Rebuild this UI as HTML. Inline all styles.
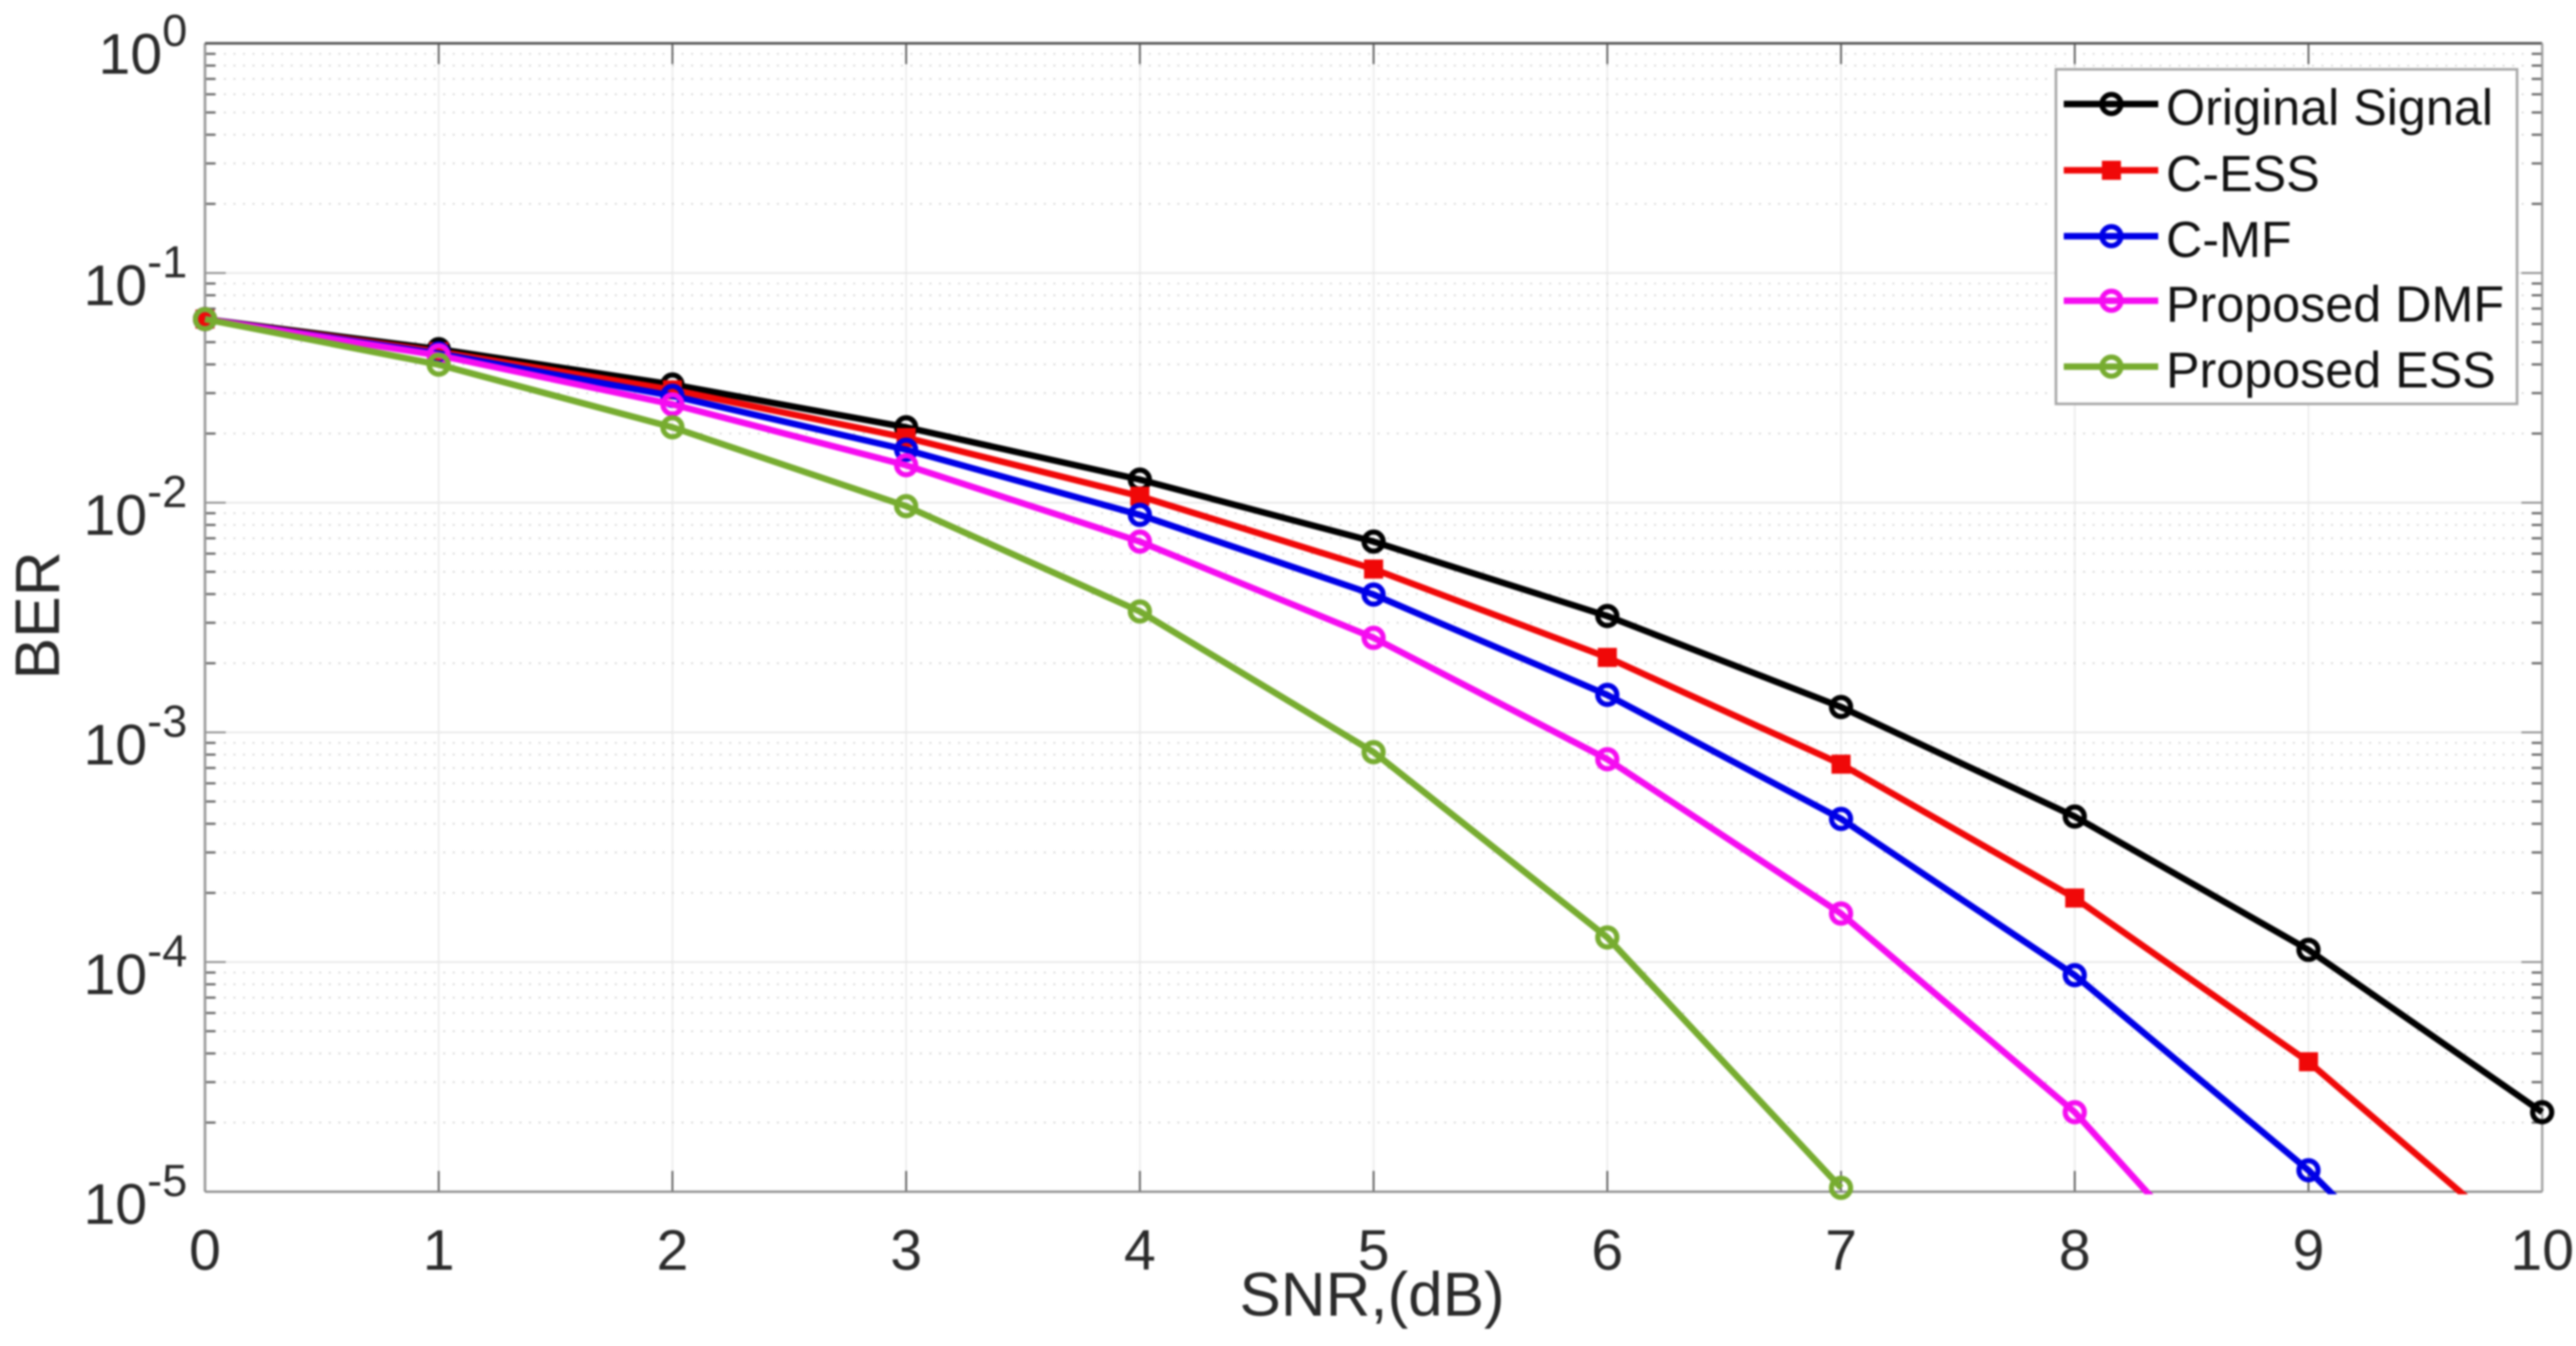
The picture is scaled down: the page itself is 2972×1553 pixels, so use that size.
<!DOCTYPE html>
<html lang="en">
<head>
<meta charset="utf-8">
<title>BER vs SNR</title>
<style>
  html, body { margin: 0; padding: 0; background: #fff; width: 2972px; height: 1553px; overflow: hidden; }
  svg { display: block; filter: blur(1px); }
  text { font-family: "Liberation Sans", Arial, sans-serif; }
</style>
</head>
<body>
<svg id="chart" xmlns="http://www.w3.org/2000/svg" width="2972" height="1553" viewBox="0 0 2972 1553">
  <defs>
    <clipPath id="plot-clip"><rect x="200" y="0" width="2772" height="1378"></rect></clipPath>
  </defs>
</svg>
<script>
// ---- data ----
const snrValues = [0, 1, 2, 3, 4, 5, 6, 7, 8, 9, 10];
const originalSignal = [0.0630, 0.0466, 0.0327, 0.0213, 0.0126, 0.00677, 0.00321, 0.00129, 0.000430, 0.000113, 0.0000222];
const cEss = [0.0630, 0.0454, 0.0310, 0.0192, 0.01067, 0.00514, 0.00212, 0.000727, 0.000190, 0.0000368, 0.00000494];
const cMf = [0.0630, 0.0446, 0.0292, 0.01700, 0.00885, 0.00398, 0.001456, 0.000420, 0.0000877, 0.0000124, 0.0000012];
const proposedDmf = [0.0630, 0.0438, 0.0268, 0.01456, 0.00677, 0.00258, 0.000764, 0.0001626, 0.0000222, 0.00000166];
const proposedEss = [0.0630, 0.0399, 0.0213, 0.00966, 0.00336, 0.00082, 0.000128, 0.0000104];
const seriesNames = ["Original Signal", "C-ESS", "C-MF", "Proposed DMF", "Proposed ESS"];
const xTickLabels = ["0", "1", "2", "3", "4", "5", "6", "7", "8", "9", "10"];
const yTickExponents = [0, -1, -2, -3, -4, -5];
const minorMultipliers = [2, 3, 4, 5, 6, 7, 8, 9];

const seriesValues = [originalSignal, cEss, cMf, proposedDmf, proposedEss];
const seriesColors = ["#000000", "#f00808", "#0000e6", "#f50cf0", "#77ac30"];
const seriesMarkers = ["circle", "square", "circle", "circle", "circle"];
const seriesKeys = ["original-signal", "c-ess", "c-mf", "proposed-dmf", "proposed-ess"];

// ---- axis functions ----
const plotLeft = 236.5, plotRight = 2933, plotTop = 50, plotBottom = 1375;
const xMin = 0, xMax = 10, logMax = 0, logMin = -5;
function xScale(v) { return plotLeft + (v - xMin) / (xMax - xMin) * (plotRight - plotLeft); }
function yScale(v) { return plotTop + (logMax - Math.log10(v)) / (logMax - logMin) * (plotBottom - plotTop); }

const svg = document.getElementById('chart');
const NS = 'http://www.w3.org/2000/svg';
function make(tag, attrs, parent) {
  const e = document.createElementNS(NS, tag);
  for (const k in attrs) e.setAttribute(k, attrs[k]);
  (parent || svg).appendChild(e);
  return e;
}

// ---- grid ----
const gridGroup = make('g', {});


xTickLabels.forEach(function (label, i) {
  const x = xScale(snrValues[i]);
  const line = make('line', { x1: x, x2: x, y1: plotTop, y2: plotBottom, stroke: '#ececec', 'stroke-width': 2 }, gridGroup);
  
  
});
yTickExponents.forEach(function (exp) {
  const y = yScale(Math.pow(10, exp));
  const major = make('line', { x1: plotLeft, x2: plotRight, y1: y, y2: y, stroke: '#e8e8e8', 'stroke-width': 2 }, gridGroup);
  
  
  if (exp > logMin) {
    minorMultipliers.forEach(function (m) {
      const ym = yScale(m * Math.pow(10, exp - 1));
      const minor = make('line', { x1: plotLeft, x2: plotRight, y1: ym, y2: ym, stroke: '#c8c8c8', 'stroke-width': 1.6, 'stroke-dasharray': '2 9' }, gridGroup);
      
      
    });
  }
});

// ---- ticks ----
const tickGroup = make('g', {});


xTickLabels.forEach(function (label, i) {
  const x = xScale(snrValues[i]);
  make('line', { x1: x, x2: x, y1: plotBottom, y2: plotBottom - 24, stroke: '#555', 'stroke-width': 2 }, tickGroup);
  make('line', { x1: x, x2: x, y1: plotTop, y2: plotTop + 24, stroke: '#555', 'stroke-width': 2 }, tickGroup);
});
yTickExponents.forEach(function (exp) {
  const y = yScale(Math.pow(10, exp));
  make('line', { x1: plotLeft, x2: plotLeft + 24, y1: y, y2: y, stroke: '#888', 'stroke-width': 2 }, tickGroup);
  make('line', { x1: plotRight, x2: plotRight - 24, y1: y, y2: y, stroke: '#888', 'stroke-width': 2 }, tickGroup);
  if (exp > logMin) {
    minorMultipliers.forEach(function (m) {
      const ym = yScale(m * Math.pow(10, exp - 1));
      make('line', { x1: plotLeft, x2: plotLeft + 12, y1: ym, y2: ym, stroke: '#666', 'stroke-width': 2.5 }, tickGroup);
      make('line', { x1: plotRight, x2: plotRight - 12, y1: ym, y2: ym, stroke: '#666', 'stroke-width': 2.5 }, tickGroup);
    });
  }
});

// ---- axes box ----
const axisLeft = make('line', { x1: plotLeft, x2: plotLeft, y1: plotTop, y2: plotBottom, stroke: '#999', 'stroke-width': 3 });


const axisBottom = make('line', { x1: plotLeft, x2: plotRight, y1: plotBottom, y2: plotBottom, stroke: '#888', 'stroke-width': 2.5 });


const axisTop = make('line', { x1: plotLeft, x2: plotRight, y1: plotTop, y2: plotTop, stroke: '#555', 'stroke-width': 3 });


const axisRight = make('line', { x1: plotRight, x2: plotRight, y1: plotTop, y2: plotBottom, stroke: '#999', 'stroke-width': 2.5 });



// ---- tick labels ----
xTickLabels.forEach(function (label, i) {
  const t = make('text', { x: xScale(snrValues[i]), y: 1465, 'text-anchor': 'middle', 'font-size': 66, fill: '#2a2a2a' });
  t.textContent = label;
  
  
});
yTickExponents.forEach(function (exp) {
  const tick = yScale(Math.pow(10, exp));
  const nudge = exp === 0 ? -2 : 0;
  const t = make('text', { x: 216, y: tick + 37 + nudge, 'text-anchor': 'end', 'font-size': 66, fill: '#2a2a2a' });
  const base = make('tspan', {}, t);
  base.textContent = '10';
  const sup = make('tspan', { 'font-size': 52, dy: -32 }, t);
  sup.textContent = String(exp);
  
  
});

// ---- axis titles ----
const xTitle = make('text', { x: 1583, y: 1518, 'text-anchor': 'middle', 'font-size': 71.5, fill: '#2a2a2a' });
xTitle.textContent = 'SNR,(dB)';


const yTitle = make('text', { x: 0, y: 0, transform: 'translate(68 710) rotate(-90)', 'text-anchor': 'middle', 'font-size': 72, fill: '#2a2a2a' });
yTitle.textContent = 'BER';



// ---- markers ----
function drawMarker(kind, x, y, color, parent) {
  if (kind === 'square') {
    return make('rect', { x: x - 11, y: y - 11, width: 22, height: 22, fill: color }, parent);
  }
  return make('circle', { cx: x, cy: y, r: 11, fill: 'none', stroke: color, 'stroke-width': 6 }, parent);
}

// ---- series ----
seriesValues.forEach(function (values, s) {
  const group = make('g', {});
  
  
  const pts = values.map(function (v, i) { return xScale(snrValues[i]).toFixed(1) + ',' + yScale(v).toFixed(1); }).join(' ');
  const line = make('polyline', { points: pts, fill: 'none', stroke: seriesColors[s], 'stroke-width': 7.5, 'stroke-linejoin': 'round', 'clip-path': 'url(#plot-clip)' }, group);
  
  
  values.forEach(function (v, i) {
    if (v < 1e-5) return;
    const mark = drawMarker(seriesMarkers[s], xScale(snrValues[i]), yScale(v), seriesColors[s], group);
    
    
  });
});

// ---- legend ----
const legend = make('g', {});


const legendBox = make('rect', { x: 2372, y: 80, width: 532, height: 386, fill: '#fff', stroke: '#a8a8a8', 'stroke-width': 3 }, legend);


const legendRowY = [120, 196.5, 272.5, 347, 423];
seriesNames.forEach(function (name, s) {
  const rowY = legendRowY[s];
  const row = make('g', {}, legend);
  
  
  make('line', { x1: 2381, x2: 2490, y1: rowY, y2: rowY, stroke: seriesColors[s], 'stroke-width': 7.5 }, row);
  drawMarker(seriesMarkers[s], 2436, rowY, seriesColors[s], row);
  const label = make('text', { x: 2499, y: rowY + 24, 'font-size': 58, fill: '#111' }, row);
  label.textContent = name;
  
  
});
</script>
</body>
</html>
